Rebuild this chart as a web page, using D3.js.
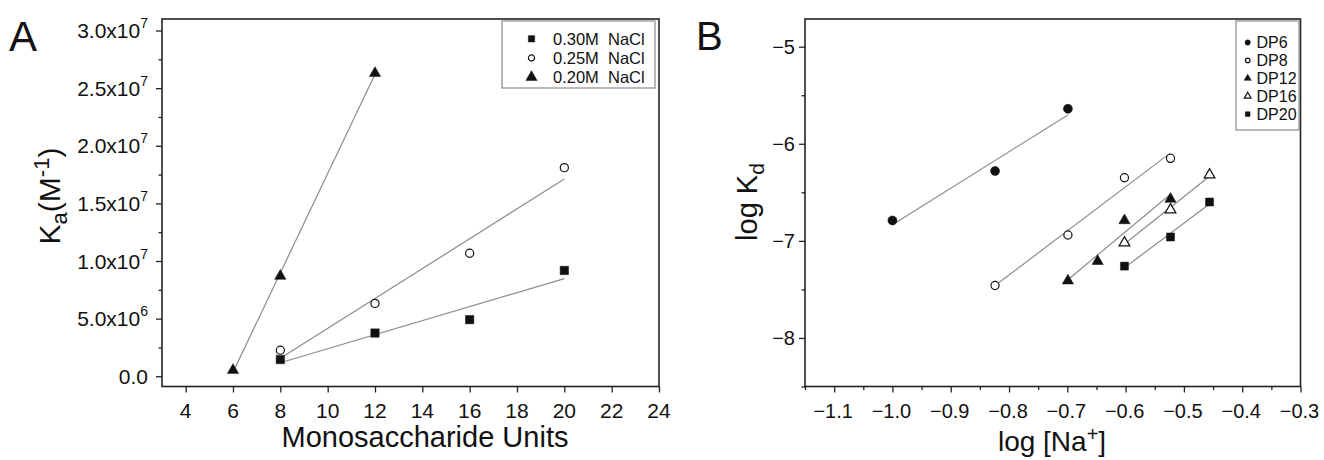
<!DOCTYPE html>
<html><head><meta charset="utf-8">
<script src="https://cdn.jsdelivr.net/npm/d3@7"></script>
<style>
body{margin:0;background:#fff}
svg{display:block}
text{font-family:"Liberation Sans",Arial,sans-serif;fill:#111}
</style>
</head><body>
<svg id="chart" width="1324" height="460"></svg>
<script>
// ---------- Panel A data ----------
const unitsA = [8, 12, 16, 20];
const ka030 = [1.45e6, 3.75e6, 4.91e6, 9.18e6];
const ka025 = [2.26e6, 6.32e6, 10.67e6, 18.1e6];
const unitsA020 = [6, 8, 12];
const ka020 = [0.53e6, 8.69e6, 26.3e6];
const legendA = ["0.30M  NaCl", "0.25M  NaCl", "0.20M  NaCl"];
const xTicksA = [4, 6, 8, 10, 12, 14, 16, 18, 20, 22, 24];
const yTicksA = [0, 5e6, 1e7, 1.5e7, 2e7, 2.5e7, 3e7];
const yMinorA = [2.5e6, 7.5e6, 1.25e7, 1.75e7, 2.25e7, 2.75e7];
const yMantA = ["0.0", "5.0x10", "1.0x10", "1.5x10", "2.0x10", "2.5x10", "3.0x10"];
const yExpA = ["", "6", "7", "7", "7", "7", "7"];

// ---------- Panel B data ----------
const dp6X = [-1.0, -0.824, -0.699];
const dp6Y = [-6.79, -6.28, -5.64];
const dp8X = [-0.824, -0.699, -0.602, -0.523];
const dp8Y = [-7.46, -6.94, -6.35, -6.15];
const dp12X = [-0.699, -0.648, -0.602, -0.523];
const dp12Y = [-7.41, -7.21, -6.79, -6.57];
const dp16X = [-0.602, -0.523, -0.456];
const dp16Y = [-7.02, -6.68, -6.32];
const dp20X = [-0.602, -0.523, -0.456];
const dp20Y = [-7.26, -6.96, -6.60];
const legendB = ["DP6", "DP8", "DP12", "DP16", "DP20"];
const xTicksB = [-1.1, -1.0, -0.9, -0.8, -0.7, -0.6, -0.5, -0.4, -0.3];
const xMinorB = [-1.15, -1.05, -0.95, -0.85, -0.75, -0.65, -0.55, -0.45, -0.35];
const yTicksB = [-8, -7, -6, -5];
const yMinorB = [-8.5, -7.5, -6.5, -5.5];

const svg = d3.select("#chart");
const LINE = "#8c8c8c", FRAME = "#222";

function linfit(xs, ys) {
  const mx = d3.mean(xs), my = d3.mean(ys);
  let sxy = 0, sxx = 0;
  xs.forEach((x, i) => { sxy += (x - mx) * (ys[i] - my); sxx += (x - mx) * (x - mx); });
  const b = sxy / sxx;
  return x => my + b * (x - mx);
}

function marker(g, shape, filled, size, x, y) {
  const types = {square: d3.symbolSquare, circle: d3.symbolCircle, triangle: d3.symbolTriangle};
  g.append("path")
    .attr("d", d3.symbol().type(types[shape]).size(size)())
    .attr("transform", `translate(${x},${y})`)
    .attr("fill", filled ? "#111" : "#fff")
    .attr("stroke", "#111")
    .attr("stroke-width", filled ? 0.5 : 1.2);
}

function drawSeries(g, x, y, xs, ys, shape, filled, size) {
  const f = linfit(xs, ys);
  const x0 = d3.min(xs), x1 = d3.max(xs);
  g.append("line")
    .attr("x1", x(x0)).attr("y1", y(f(x0)))
    .attr("x2", x(x1)).attr("y2", y(f(x1)))
    .attr("stroke", LINE).attr("stroke-width", 1.2);
  xs.forEach((v, i) => marker(g, shape, filled, size, x(v), y(ys[i])));
}

function frameAndTicks(g, x, y, xMaj, xMin, yMaj, yMin, L, T, R, B) {
  g.append("g").attr("transform", `translate(0,${B})`)
    .call(d3.axisBottom(x).tickValues(xMaj).tickSize(6).tickSizeOuter(0).tickFormat(""));
  if (xMin.length) g.append("g").attr("transform", `translate(0,${B})`)
    .call(d3.axisBottom(x).tickValues(xMin).tickSize(3.5).tickSizeOuter(0).tickFormat(""));
  g.append("g").attr("transform", `translate(${L},0)`)
    .call(d3.axisLeft(y).tickValues(yMaj).tickSize(6).tickSizeOuter(0).tickFormat(""));
  if (yMin.length) g.append("g").attr("transform", `translate(${L},0)`)
    .call(d3.axisLeft(y).tickValues(yMin).tickSize(3.5).tickSizeOuter(0).tickFormat(""));
  g.selectAll(".domain").remove();
  g.selectAll(".tick line").attr("stroke", FRAME).attr("stroke-width", 1.3);
  g.append("rect").attr("x", L).attr("y", T).attr("width", R - L).attr("height", B - T)
    .attr("fill", "none").attr("stroke", FRAME).attr("stroke-width", 1.6);
}

// ================= Panel A =================
{
  const L = 162, T = 19, R = 659, B = 386.5;
  const x = d3.scaleLinear().domain([3, 24]).range([L, R]);
  const y = d3.scaleLinear().domain([-0.89e6, 3.1e7]).range([B, T]);
  const g = svg.append("g");
  frameAndTicks(g, x, y, xTicksA, [], yTicksA, yMinorA, L, T, R, B);

  g.selectAll(".xlA").data(xTicksA).join("text")
    .attr("x", d => x(d)).attr("y", 418).attr("text-anchor", "middle")
    .attr("font-size", 21).text(d => d);
  yTicksA.forEach((v, i) => {
    const t = g.append("text").attr("x", 148).attr("y", y(v) + 7.5)
      .attr("text-anchor", "end").attr("font-size", 21);
    t.append("tspan").text(yMantA[i]);
    if (yExpA[i]) t.append("tspan").attr("dy", -10).attr("font-size", 14).text(yExpA[i]);
  });

  drawSeries(g, x, y, unitsA020, ka020, "triangle", true, 55);
  drawSeries(g, x, y, unitsA, ka025, "circle", false, 52);
  drawSeries(g, x, y, unitsA, ka030, "square", true, 70);

  g.append("rect").attr("x", 502).attr("y", 21).attr("width", 153).attr("height", 67)
    .attr("fill", "#fff").attr("stroke", "#8a8a8a").attr("stroke-width", 1.2);
  const legShapes = [["square", true, 40], ["circle", false, 30], ["triangle", true, 55]];
  legendA.forEach((s, i) => {
    const cy = 38.8 + i * 19.2;
    marker(g, legShapes[i][0], legShapes[i][1], legShapes[i][2], 531.5, cy);
    g.append("text").attr("x", 553).attr("y", cy + 6).attr("font-size", 16.5)
      .style("white-space", "pre").text(s);
  });

  g.append("text").attr("x", 425).attr("y", 447).attr("text-anchor", "middle")
    .attr("font-size", 29).text("Monosaccharide Units");
  const yt = g.append("text").attr("transform", "translate(60,196) rotate(-90)")
    .attr("text-anchor", "middle").attr("font-size", 30);
  yt.append("tspan").text("K");
  yt.append("tspan").attr("dy", 7).attr("font-size", 22).text("a");
  yt.append("tspan").attr("dy", -7).text("(M");
  yt.append("tspan").attr("dy", -11).attr("font-size", 22).text("-1");
  yt.append("tspan").attr("dy", 11).text(")");

  g.append("text").attr("x", 9).attr("y", 51).attr("font-family", "'Open Sans',sans-serif")
    .attr("font-size", 42).text("A");
}

// ================= Panel B =================
{
  const L = 805, T = 19, R = 1300.5, B = 386.5;
  const x = d3.scaleLinear().domain([-1.15, -0.3]).range([L, R]);
  const y = d3.scaleLinear().domain([-8.5, -4.715]).range([B, T]);
  const g = svg.append("g");
  frameAndTicks(g, x, y, xTicksB, xMinorB, yTicksB, yMinorB, L, T, R, B);

  g.selectAll(".xlB").data(xTicksB).join("text")
    .attr("x", d => x(d) - 1).attr("y", 418).attr("text-anchor", "middle")
    .attr("font-size", 20).text(d => d3.format(".1f")(d).replace("-", "\u2212"));
  g.selectAll(".ylB").data(yTicksB).join("text")
    .attr("x", 795).attr("y", d => y(d) + 7).attr("text-anchor", "end")
    .attr("font-size", 20).text(d => String(d).replace("-", "\u2212"));

  drawSeries(g, x, y, dp6X, dp6Y, "circle", true, 64);
  drawSeries(g, x, y, dp8X, dp8Y, "circle", false, 52);
  drawSeries(g, x, y, dp12X, dp12Y, "triangle", true, 55);
  drawSeries(g, x, y, dp16X, dp16Y, "triangle", false, 50);
  drawSeries(g, x, y, dp20X, dp20Y, "square", true, 64);

  g.append("rect").attr("x", 1236).attr("y", 21).attr("width", 63).attr("height", 109)
    .attr("fill", "#fff").attr("stroke", "#8a8a8a").attr("stroke-width", 1.2);
  const legShapes = [["circle", true, 22], ["circle", false, 16], ["triangle", true, 22], ["triangle", false, 20], ["square", true, 22]];
  legendB.forEach((s, i) => {
    const cy = 42.5 + i * 17.9;
    marker(g, legShapes[i][0], legShapes[i][1], legShapes[i][2], 1247.7, cy);
    g.append("text").attr("x", 1256.5).attr("y", cy + 5.5).attr("font-size", 16).text(s);
  });

  const xt = g.append("text").attr("x", 1052).attr("y", 451).attr("text-anchor", "middle")
    .attr("font-size", 28);
  xt.append("tspan").text("log [Na");
  xt.append("tspan").attr("dy", -10).attr("font-size", 20).text("+");
  xt.append("tspan").attr("dy", 10).text("]");
  const yt = g.append("text").attr("transform", "translate(757,202) rotate(-90)")
    .attr("text-anchor", "middle").attr("font-size", 29);
  yt.append("tspan").text("log K");
  yt.append("tspan").attr("dy", 7).attr("font-size", 21).text("d");

  g.append("text").attr("x", 696).attr("y", 50).attr("font-family", "'Open Sans',sans-serif")
    .attr("font-size", 40).text("B");
}
</script>
</body></html>
